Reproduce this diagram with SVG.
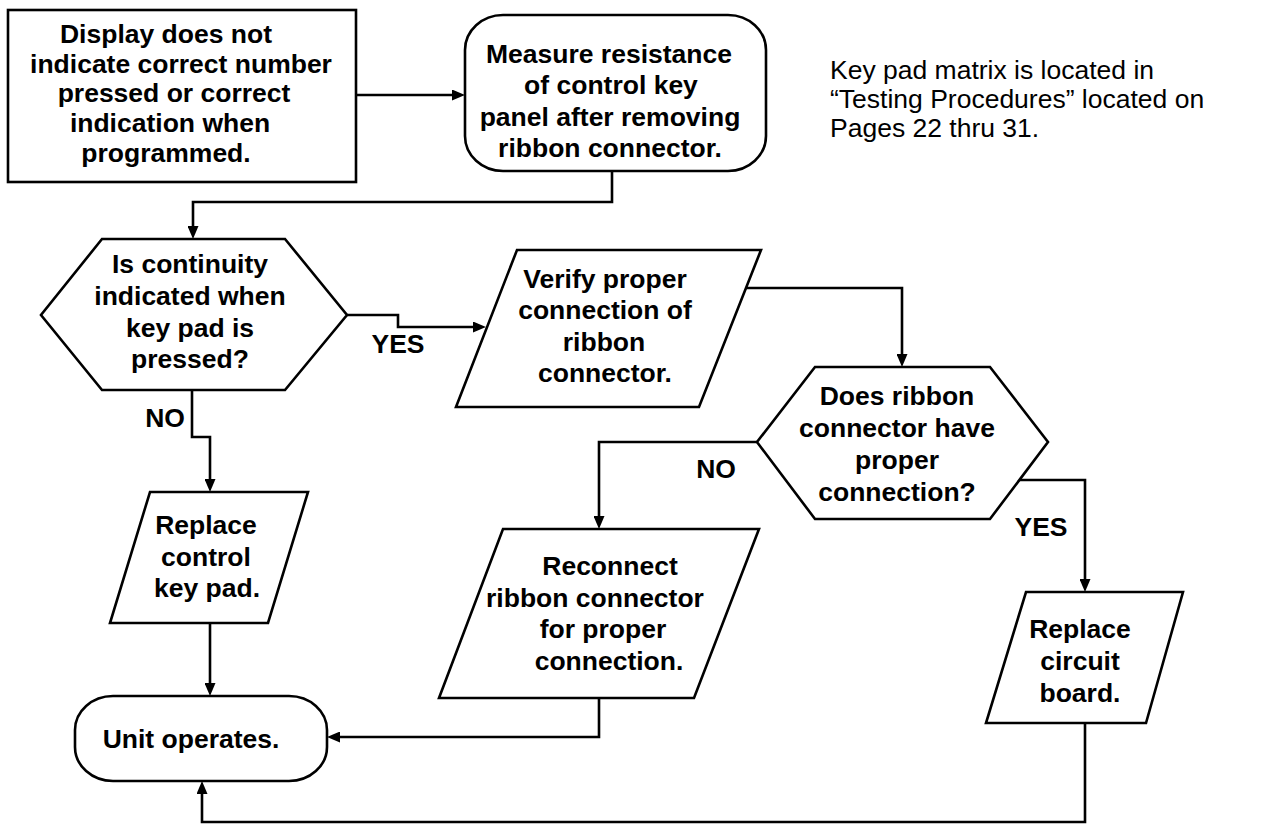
<svg xmlns="http://www.w3.org/2000/svg" width="1274" height="825" viewBox="0 0 1274 825">
<style>
.shape{fill:#fff;stroke:#000;stroke-width:2.6;stroke-linejoin:miter}
.conn{fill:none;stroke:#000;stroke-width:2.6}
.t{font-family:"Liberation Sans",Arial,Helvetica,sans-serif;font-weight:bold;font-size:26.5px;fill:#000;text-anchor:middle}
.n{font-family:"Liberation Sans",Arial,Helvetica,sans-serif;font-size:26.5px;fill:#000}
</style>
<defs>
<marker id="arr" viewBox="0 0 13 11" refX="4" refY="5.5" markerWidth="13" markerHeight="11" markerUnits="userSpaceOnUse" orient="auto">
<path d="M0,0 L13,5.5 L0,11 z" fill="#000"/>
</marker>
</defs>
<rect width="1274" height="825" fill="#fff"/>
<g id="connectors">
<path class="conn" d="M356,95 H456" marker-end="url(#arr)"/>
<path class="conn" d="M612,171 V202 H193 V230" marker-end="url(#arr)"/>
<path class="conn" d="M347,315 H398 V327 H477" marker-end="url(#arr)"/>
<path class="conn" d="M192,390 V437 H210 V483" marker-end="url(#arr)"/>
<path class="conn" d="M746,288 H902 V358" marker-end="url(#arr)"/>
<path class="conn" d="M757,442 H599 V520" marker-end="url(#arr)"/>
<path class="conn" d="M1019,480 H1085 V583" marker-end="url(#arr)"/>
<path class="conn" d="M210,623 V687" marker-end="url(#arr)"/>
<path class="conn" d="M599,698 V737 H336" marker-end="url(#arr)"/>
<path class="conn" d="M1085,723 V822 H202 V790" marker-end="url(#arr)"/>
<text class="t" x="398" y="353">YES</text>
<text class="t" x="165" y="427">NO</text>
<text class="t" x="716" y="478">NO</text>
<text class="t" x="1041" y="536">YES</text>
</g>
<g id="start">
<rect class="shape" x="8" y="10" width="348" height="172"/>
<text class="t" x="166" y="43">Display does not</text>
<text class="t" x="181" y="73">indicate correct number</text>
<text class="t" x="174" y="102">pressed or correct</text>
<text class="t" x="170" y="132">indication when</text>
<text class="t" x="166" y="162">programmed.</text>
</g>
<g id="measure">
<rect class="shape" x="465" y="15" width="301" height="156" rx="38" ry="35"/>
<text class="t" x="609" y="63">Measure resistance</text>
<text class="t" x="611" y="94">of control key</text>
<text class="t" x="610" y="126">panel after removing</text>
<text class="t" x="610" y="157">ribbon connector.</text>
</g>
<g id="note">
<text class="n" x="830" y="79">Key pad matrix is located in</text>
<text class="n" x="830" y="108">“Testing Procedures” located on</text>
<text class="n" x="830" y="137">Pages 22 thru 31.</text>
</g>
<g id="continuity">
<polygon class="shape" points="102,239 285,239 347,315 285,390 102,390 41,315"/>
<text class="t" x="190" y="273">Is continuity</text>
<text class="t" x="190" y="305">indicated when</text>
<text class="t" x="190" y="337">key pad is</text>
<text class="t" x="190" y="368">pressed?</text>
</g>
<g id="verify">
<polygon class="shape" points="517,250 761,250 699,407 456,407"/>
<text class="t" x="605" y="288">Verify proper</text>
<text class="t" x="605" y="319">connection of</text>
<text class="t" x="604" y="351">ribbon</text>
<text class="t" x="605" y="382">connector.</text>
</g>
<g id="proper">
<polygon class="shape" points="815,367 990,367 1048,442 990,519 815,519 757,442"/>
<text class="t" x="897" y="405">Does ribbon</text>
<text class="t" x="897" y="437">connector have</text>
<text class="t" x="897" y="469">proper</text>
<text class="t" x="897" y="501">connection?</text>
</g>
<g id="replacekeypad">
<polygon class="shape" points="150,492 308,492 268,623 110,623"/>
<text class="t" x="206" y="534">Replace</text>
<text class="t" x="206" y="566">control</text>
<text class="t" x="207" y="597">key pad.</text>
</g>
<g id="reconnect">
<polygon class="shape" points="503,529 759,529 694,698 439,698"/>
<text class="t" x="610" y="575">Reconnect</text>
<text class="t" x="595" y="607">ribbon connector</text>
<text class="t" x="603" y="638">for proper</text>
<text class="t" x="609" y="670">connection.</text>
</g>
<g id="replaceboard">
<polygon class="shape" points="1026,592 1183,592 1146,723 986,723"/>
<text class="t" x="1080" y="638">Replace</text>
<text class="t" x="1080" y="670">circuit</text>
<text class="t" x="1080" y="702">board.</text>
</g>
<g id="unit">
<rect class="shape" x="75" y="696" width="252" height="85" rx="38" ry="34"/>
<text class="t" x="191" y="748">Unit operates.</text>
</g>
</svg>
